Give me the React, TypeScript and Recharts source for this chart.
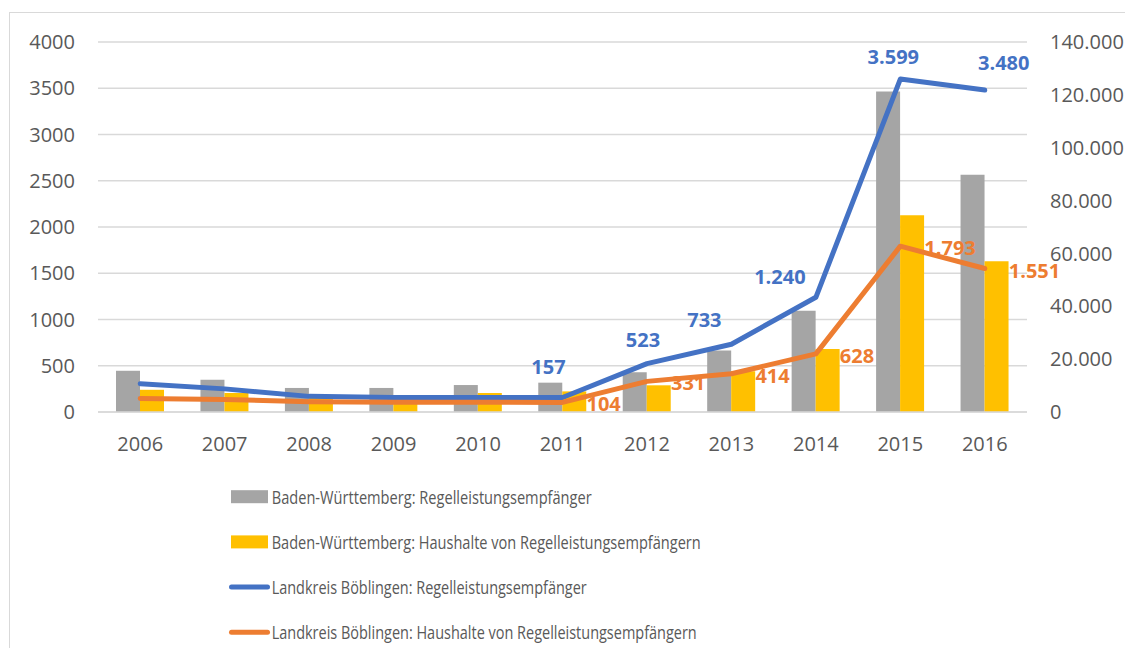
import React from 'react';
import {
    ComposedChart, Bar, Line, XAxis, YAxis, CartesianGrid,
} from 'recharts';

const years = ['2006', '2007', '2008', '2009', '2010', '2011', '2012', '2013', '2014', '2015', '2016'];
// Baden-Württemberg, right axis
const bwEmpfaenger = [15600, 12200, 9100, 9100, 10200, 11100, 15000, 23300, 38300, 121300, 89800];
const bwHaushalte = [8400, 7200, 5600, 5600, 7200, 7800, 10100, 15400, 23800, 74400, 57000];
// Landkreis Böblingen, left axis
const lbEmpfaenger = [306, 250, 169, 158, 158, 157, 523, 733, 1240, 3599, 3480];
const lbHaushalte = [147, 135, 111, 106, 106, 104, 331, 414, 628, 1793, 1551];

const leftTicks = [0, 500, 1000, 1500, 2000, 2500, 3000, 3500, 4000];
const rightTicks = [0, 20000, 40000, 60000, 80000, 100000, 120000, 140000];

const legendItems = [
    { label: 'Baden-Württemberg: Regelleistungsempfänger', color: '#A5A5A5', kind: 'bar', textWidth: 320 },
    { label: 'Baden-Württemberg: Haushalte von Regelleistungsempfängern', color: '#FFC000', kind: 'bar', textWidth: 429 },
    { label: 'Landkreis Böblingen: Regelleistungsempfänger', color: '#4472C4', kind: 'line', textWidth: 315 },
    { label: 'Landkreis Böblingen: Haushalte von Regelleistungsempfängern', color: '#ED7D31', kind: 'line', textWidth: 425 },
];

const data = years.map((year, i) => ({
    year,
    bwEmpf: bwEmpfaenger[i],
    bwHaush: bwHaushalte[i],
    lbEmpf: lbEmpfaenger[i],
    lbHaush: lbHaushalte[i],
}));

const fmt = (n: number) => String(n).replace(/\B(?=(\d{3})+(?!\d))/g, '.');

const FIRST_LABEL = 5; // labels only from 2011 on
// hand nudges so the blue labels sit where Excel put them
const blueNudge = [[-14, -30], [-4, -24], [-27, -24], [-36, -20], [-7, -22], [19, -27]];

const tickStyle = { fill: '#595959', fontSize: 20, fontFamily: 'Open Sans' };

const BlueLabel = (props: any) => {
    const { x, y, index, value } = props;
    if (index < FIRST_LABEL) return null;
    const [dx, dy] = blueNudge[index - FIRST_LABEL];
    return (
        <text x={x + dx} y={y + dy + 7} textAnchor="middle" fill="#4472C4"
            fontSize={20} fontWeight={700} fontFamily="Open Sans">
            {fmt(value)}
        </text>
    );
};

const OrangeLabel = (props: any) => {
    const { x, y, index, value } = props;
    if (index < FIRST_LABEL) return null;
    return (
        <text x={x + 24} y={y + 9} textAnchor="start" fill="#ED7D31"
            fontSize={20} fontWeight={700} fontFamily="Open Sans">
            {fmt(value)}
        </text>
    );
};

const ChartLegend = () => (
    <svg width={1125} height={170} style={{ position: 'absolute', left: 0, top: 470 }}>
        {legendItems.map((item, i) => {
            const cy = 18.7 + i * 45.2;
            return (
                <g key={item.label}>
                    {item.kind === 'bar'
                        ? <rect x={223} y={cy - 6.5} width={37} height={13} fill={item.color} />
                        : <line x1={223.5} x2={259.5} y1={cy} y2={cy} stroke={item.color}
                            strokeWidth={5} strokeLinecap="round" />}
                    <text x={263.7} y={cy + 6.8} fill="#595959" fontSize={19} fontFamily="Open Sans"
                        textLength={item.textWidth} lengthAdjust="spacingAndGlyphs">
                        {item.label}
                    </text>
                </g>
            );
        })}
    </svg>
);

export default function App() {
    return (
        <div style={{ position: 'relative', width: 1125, height: 640, overflow: 'hidden', fontFamily: 'Open Sans' }}>
            <div style={{
                position: 'absolute', left: 1.3, top: 4.2, width: 2000, height: 2000,
                borderLeft: '1.5px solid #d9d9d9', borderTop: '1.5px solid #d9d9d9',
            }} />
            <div style={{ position: 'absolute', left: 0, top: 0 }}>
                <ComposedChart width={1125} height={470} data={data} barGap={0}
                    margin={{ top: 34, right: 6, left: 10, bottom: 16 }}>
                    <CartesianGrid yAxisId="left" vertical={false} stroke="#d9d9d9" strokeWidth={1.5} />
                    <XAxis dataKey="year" height={50} tickSize={0} tickMargin={25} tickLine={false}
                        axisLine={{ stroke: '#d9d9d9', strokeWidth: 1.5 }} tick={tickStyle} interval={0} />
                    <YAxis yAxisId="left" domain={[0, 4000]} ticks={leftTicks} width={80}
                        tickSize={0} tickMargin={23} axisLine={false} tickLine={false} tick={tickStyle} />
                    <YAxis yAxisId="right" orientation="right" domain={[0, 140000]} ticks={rightTicks} width={100}
                        tickSize={0} tickMargin={23} axisLine={false} tickLine={false} tick={tickStyle}
                        tickFormatter={fmt} />
                    <Bar yAxisId="right" dataKey="bwEmpf" fill="#A5A5A5" barSize={24} isAnimationActive={false} />
                    <Bar yAxisId="right" dataKey="bwHaush" fill="#FFC000" barSize={24} isAnimationActive={false} />
                    <Line yAxisId="left" type="linear" dataKey="lbEmpf" stroke="#4472C4" strokeWidth={5}
                        strokeLinecap="round" strokeLinejoin="round" dot={false} label={BlueLabel}
                        isAnimationActive={false} />
                    <Line yAxisId="left" type="linear" dataKey="lbHaush" stroke="#ED7D31" strokeWidth={5}
                        strokeLinecap="round" strokeLinejoin="round" dot={false} label={OrangeLabel}
                        isAnimationActive={false} />
                </ComposedChart>
            </div>
            <ChartLegend />
        </div>
    );
}
